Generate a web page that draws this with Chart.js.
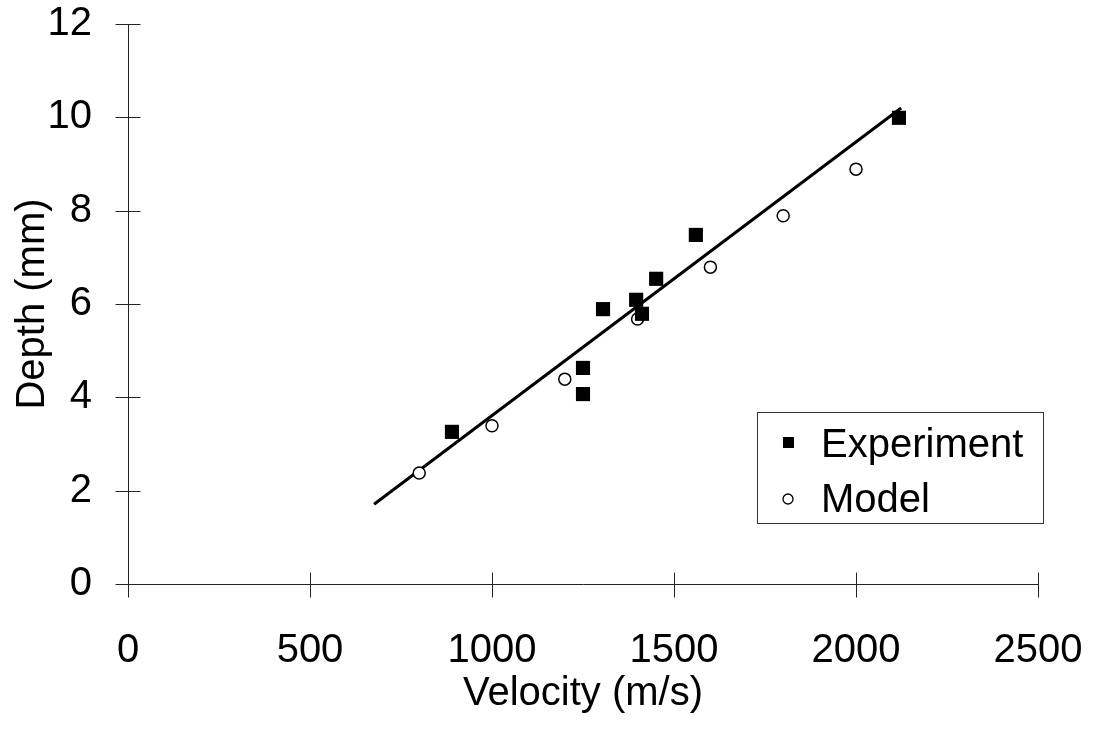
<!DOCTYPE html>
<html>
<head>
<meta charset="utf-8">
<script src="https://cdn.jsdelivr.net/npm/chart.js@4.4.1/dist/chart.umd.min.js"></script>
<style>
  html, body { margin: 0; padding: 0; background: #fff; }
  #wrap { width: 1095px; height: 733px; position: relative; }
</style>
</head>
<body>
<div id="wrap"><canvas id="chart"></canvas></div>
<script>
const FONT = '"Liberation Sans", Arial, sans-serif'

// Experiment: velocity (m/s) vs depth (mm)
const expVelocity = [890, 1250, 1250, 1305, 1396, 1412, 1451, 1560, 2118]
const expDepth = [3.26, 4.63, 4.07, 5.89, 6.09, 5.79, 6.54, 7.48, 9.99]

// Model
const modelVelocity = [800, 1000, 1200, 1400, 1600, 1800, 2000]
const modelDepth = [2.38, 3.39, 4.39, 5.68, 6.79, 7.89, 8.89]

// Linear fit through experiment points (drawn end to end)
const fitVelocity = [676, 2124]
const fitDepth = [1.71, 10.2]

const xTicks = [0, 500, 1000, 1500, 2000, 2500]
const yTicks = [0, 2, 4, 6, 8, 10, 12]

const toPoints = (xs, ys) => xs.map((x, i) => ({ x, y: ys[i] }))

// axis lines with ticks that cross the axis, like the original plot
const crossAxes = {
  id: "crossAxes",
  afterDraw(chart) {
    const { ctx } = chart
    const xs = chart.scales.x
    const ys = chart.scales.y
    const x0 = Math.round(xs.getPixelForValue(0)) + 0.5
    const y0 = Math.round(ys.getPixelForValue(0)) + 0.5
    ctx.save()
    ctx.strokeStyle = "#222"
    ctx.lineWidth = 1
    ctx.beginPath()
    ctx.moveTo(x0, Math.round(ys.getPixelForValue(12)))
    ctx.lineTo(x0, y0)
    ctx.moveTo(x0, y0)
    ctx.lineTo(Math.round(xs.getPixelForValue(2500)) + 1, y0)
    xTicks.forEach((v) => {
      const px = Math.round(xs.getPixelForValue(v)) + 0.5
      ctx.moveTo(px, y0 - 12)
      ctx.lineTo(px, y0 + 13)
    })
    yTicks.forEach((v) => {
      const py = Math.round(ys.getPixelForValue(v)) + 0.5
      ctx.moveTo(x0 - 13, py)
      ctx.lineTo(x0 + 12, py)
    })
    ctx.stroke()
    ctx.restore()
  },
}

// boxed legend inside the plot area
const boxLegend = {
  id: "boxLegend",
  afterDraw(chart) {
    const { ctx } = chart
    ctx.save()
    ctx.strokeStyle = "#333"
    ctx.lineWidth = 1
    ctx.strokeRect(757.5, 412.5, 286, 111)

    ctx.fillStyle = "#000"
    ctx.fillRect(783, 437, 11, 11)

    ctx.beginPath()
    ctx.arc(788, 499, 5, 0, Math.PI * 2)
    ctx.fillStyle = "#fff"
    ctx.fill()
    ctx.lineWidth = 1.3
    ctx.strokeStyle = "#000"
    ctx.stroke()

    ctx.fillStyle = "#000"
    ctx.font = `40px ${FONT}`
    ctx.textBaseline = "alphabetic"
    ctx.textAlign = "left"
    ctx.fillText("Experiment", 821, 457)
    ctx.fillText("Model", 821, 512)
    ctx.restore()
  },
}

new Chart(document.getElementById("chart"), {
  type: "scatter",
  data: {
    datasets: [
      {
        label: "Experiment",
        data: toPoints(expVelocity, expDepth),
        pointStyle: "rect",
        pointRadius: 10,
        pointBackgroundColor: "#000",
        pointBorderColor: "#000",
        pointBorderWidth: 0,
      },
      {
        label: "Model",
        data: toPoints(modelVelocity, modelDepth),
        pointStyle: "circle",
        pointRadius: 6,
        pointBackgroundColor: "#fff",
        pointBorderColor: "#000",
        pointBorderWidth: 1.5,
      },
      {
        label: "Fit",
        data: toPoints(fitVelocity, fitDepth),
        showLine: true,
        borderColor: "#000",
        borderWidth: 3,
        pointRadius: 0,
      },
    ],
  },
  options: {
    responsive: true,
    maintainAspectRatio: false,
    animation: false,
    layout: { padding: { left: 0, top: 24, right: 57, bottom: 0 } },
    plugins: {
      legend: { display: false },
      tooltip: { enabled: false },
    },
    scales: {
      x: {
        type: "linear",
        min: 0,
        max: 2500,
        afterFit: (scale) => {
          scale.height = 149
          scale.paddingLeft = 0
          scale.paddingRight = 0
        },
        afterBuildTicks: (scale) => { scale.ticks = xTicks.map((value) => ({ value })) },
        grid: { display: false },
        border: { display: false },
        ticks: {
          color: "#000",
          font: { family: FONT, size: 40 },
          padding: 35,
          maxRotation: 0,
          callback: (value) => String(value),
        },
        title: {
          display: true,
          text: "Velocity (m/s)",
          color: "#000",
          font: { family: FONT, size: 40 },
          padding: { top: 0, bottom: 15 },
        },
      },
      y: {
        type: "linear",
        min: 0,
        max: 12,
        afterFit: (scale) => {
          scale.width = 128
          scale.paddingTop = 0
          scale.paddingBottom = 0
        },
        afterBuildTicks: (scale) => { scale.ticks = yTicks.map((value) => ({ value })) },
        grid: { display: false },
        border: { display: false },
        ticks: {
          color: "#000",
          font: { family: FONT, size: 40 },
          padding: 28,
          callback: (value) => String(value),
        },
        title: {
          display: true,
          text: "Depth (mm)",
          color: "#000",
          font: { family: FONT, size: 40 },
          padding: { top: 9, bottom: 0 },
        },
      },
    },
  },
  plugins: [crossAxes, boxLegend],
})
</script>
</body>
</html>
